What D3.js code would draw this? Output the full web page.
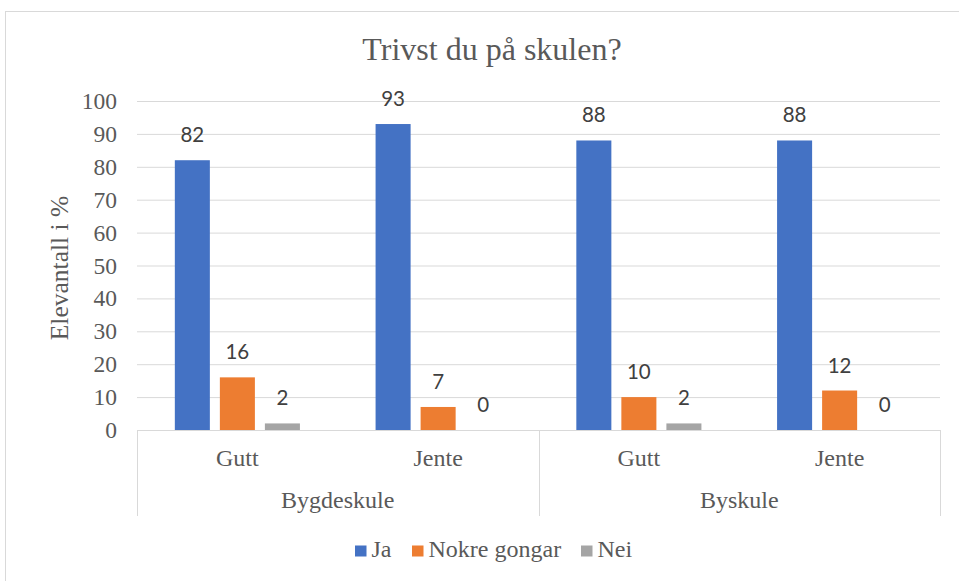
<!DOCTYPE html>
<html><head><meta charset="utf-8">
<script src="https://cdn.jsdelivr.net/npm/d3@7"></script>
<style>body{margin:0;background:#fff}svg{display:block}</style>
</head><body>
<svg id="c" width="959" height="581"></svg>
<script>
const title = "Trivst du på skulen?";
const yTitle = "Elevantall i %";
const schools = ["Bygdeskule", "Byskule"];
const genders = ["Gutt", "Jente"];
const categories = ["Bygdeskule|Gutt", "Bygdeskule|Jente", "Byskule|Gutt", "Byskule|Jente"];
const seriesNames = ["Ja", "Nokre gongar", "Nei"];
const seriesColors = ["#4472C4", "#ED7D31", "#A5A5A5"];
const ja = [82, 93, 88, 88];
const nokre = [16, 7, 10, 12];
const nei = [2, 0, 2, 0];
const yTicks = [0, 10, 20, 30, 40, 50, 60, 70, 80, 90, 100];

const values = [ja, nokre, nei];
const svg = d3.select("#c");
const L = 137, R = 940, T = 101, B = 430;
const serif = "'Liberation Serif','Times New Roman',serif";
const sans = "Lato, Carlito, Calibri, sans-serif";
const textCol = "#595959";

svg.append("rect").attr("x", 5.5).attr("y", 11.5).attr("width", 960).attr("height", 575)
  .attr("fill", "#fff").attr("stroke", "#d9d9d9");

svg.append("text").attr("x", 492).attr("y", 60).attr("text-anchor", "middle")
  .attr("font-family", serif).attr("font-size", 32).attr("fill", textCol).text(title);

const y = d3.scaleLinear().domain([0, 100]).range([B, T]);
const x0 = d3.scaleBand().domain(categories).range([L, R]).padding(0);
const x1 = d3.scaleBand().domain(seriesNames).range([0, x0.bandwidth()]).paddingInner(0.222).paddingOuter(0.84);

// gridlines
svg.append("g").selectAll("line").data(yTicks.filter(d => d > 0)).join("line")
  .attr("x1", L).attr("x2", R).attr("y1", d => y(d) + 0.5).attr("y2", d => y(d) + 0.5)
  .attr("stroke", "#d9d9d9").attr("stroke-width", 1);

// y axis labels
const yAxis = d3.axisLeft(y).tickValues(yTicks).tickSize(0).tickPadding(20);
const gy = svg.append("g").attr("transform", `translate(${L},0)`).call(yAxis);
gy.select(".domain").remove();
gy.selectAll("text").attr("font-family", serif).attr("font-size", 23.5).attr("fill", textCol);

svg.append("text").attr("transform", `translate(68,268) rotate(-90)`).attr("text-anchor", "middle")
  .attr("font-family", serif).attr("font-size", 25.5).attr("fill", textCol).text(yTitle);

// bars
const groups = svg.append("g").selectAll("g").data(categories).join("g")
  .attr("transform", d => `translate(${x0(d)},0)`);
groups.each(function(cat, ci) {
  const g = d3.select(this);
  seriesNames.forEach((s, si) => {
    const v = values[si][ci];
    g.append("rect").attr("x", x1(s)).attr("width", x1.bandwidth())
      .attr("y", y(v)).attr("height", B - y(v)).attr("fill", seriesColors[si]);
    g.append("text").attr("x", x1(s) + x1.bandwidth() / 2).attr("y", y(v) - 18)
      .attr("text-anchor", "middle").attr("font-family", sans).attr("font-size", 20.5)
      .attr("fill", "#404040").text(v);
  });
});

// category axis
svg.append("line").attr("x1", L).attr("x2", R).attr("y1", B + 0.5).attr("y2", B + 0.5).attr("stroke", "#d9d9d9");
const schoolScale = d3.scaleBand().domain(schools).range([L, R]);
const seps = [L, schoolScale("Byskule"), R];
svg.append("g").selectAll("line").data(seps).join("line")
  .attr("x1", d => Math.round(d) + 0.5).attr("x2", d => Math.round(d) + 0.5)
  .attr("y1", B).attr("y2", 516).attr("stroke", "#d9d9d9");
svg.append("g").selectAll("text").data(categories).join("text")
  .attr("x", d => x0(d) + x0.bandwidth() / 2).attr("y", 466).attr("text-anchor", "middle")
  .attr("font-family", serif).attr("font-size", 24).attr("fill", textCol)
  .text(d => d.split("|")[1]);
svg.append("g").selectAll("text").data(schools).join("text")
  .attr("x", d => schoolScale(d) + schoolScale.bandwidth() / 2).attr("y", 508).attr("text-anchor", "middle")
  .attr("font-family", serif).attr("font-size", 24).attr("fill", textCol).text(d => d);

// legend
const legendX = [355, 412, 581];
const lg = svg.append("g").selectAll("g").data(seriesNames).join("g")
  .attr("transform", (d, i) => `translate(${legendX[i]},545.5)`);
lg.append("rect").attr("width", 11.5).attr("height", 11).attr("fill", (d, i) => seriesColors[i]);
lg.append("text").attr("x", 16.5).attr("y", 11.5).attr("font-family", serif).attr("font-size", 24)
  .attr("fill", textCol).text(d => d);
</script>
</body></html>
